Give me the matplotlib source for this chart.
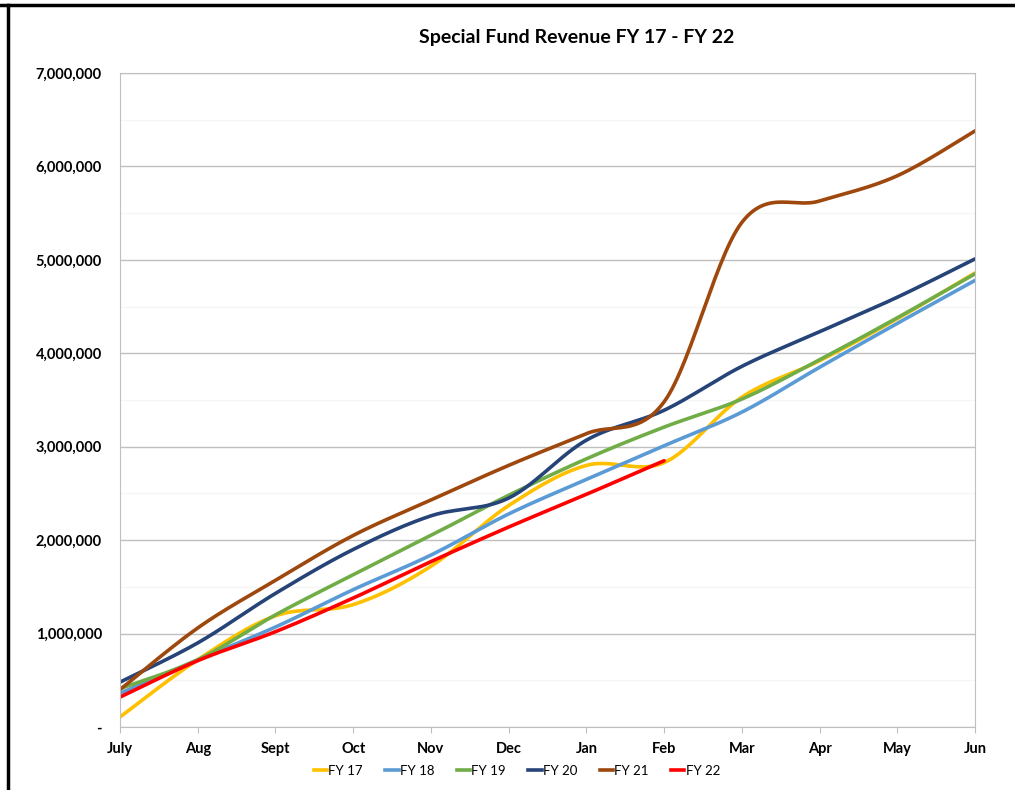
import matplotlib.pyplot as plt
from matplotlib.ticker import FuncFormatter, MultipleLocator
from matplotlib.lines import Line2D
import numpy as np

months = ['July', 'Aug', 'Sept', 'Oct', 'Nov', 'Dec', 'Jan', 'Feb', 'Mar', 'Apr', 'May', 'Jun']

fy17 = [107000, 720000, 1190000, 1310000, 1720000, 2370000, 2800000, 2830000, 3530000, 3920000, 4370000, 4860000]
fy18 = [360000, 720000, 1070000, 1470000, 1840000, 2280000, 2650000, 3010000, 3370000, 3850000, 4320000, 4780000]
fy19 = [410000, 720000, 1200000, 1630000, 2050000, 2480000, 2870000, 3210000, 3510000, 3930000, 4380000, 4850000]
fy20 = [480000, 900000, 1430000, 1900000, 2260000, 2450000, 3070000, 3390000, 3860000, 4230000, 4600000, 5010000]
fy21 = [400000, 1060000, 1570000, 2050000, 2430000, 2800000, 3140000, 3480000, 5400000, 5630000, 5900000, 6380000]
fy22 = [320000, 710000, 1020000, 1380000, 1770000, 2140000, 2490000, 2850000]

series = [('FY 17', fy17, '#ffc000'),
          ('FY 18', fy18, '#5b9bd5'),
          ('FY 19', fy19, '#70ad47'),
          ('FY 20', fy20, '#264478'),
          ('FY 21', fy21, '#9e480e'),
          ('FY 22', fy22, '#ff0000')]


def smooth(y, steps=30):
    # Catmull-Rom curve through the points, like Excel's smoothed line
    y = np.asarray(y, dtype=float)
    x = np.arange(len(y), dtype=float)
    px = np.concatenate([[x[0]], x, [x[-1]]])
    py = np.concatenate([[y[0]], y, [y[-1]]])
    xs, ys = [], []
    t = np.linspace(0, 1, steps)
    for i in range(1, len(px) - 2):
        for p, out in ((px, xs), (py, ys)):
            p0, p1, p2, p3 = p[i - 1], p[i], p[i + 1], p[i + 2]
            c1 = p1 + (p2 - p0) / 6
            c2 = p2 - (p3 - p1) / 6
            out.extend((1 - t) ** 3 * p1 + 3 * (1 - t) ** 2 * t * c1 + 3 * (1 - t) * t ** 2 * c2 + t ** 3 * p2)
    return np.array(xs), np.array(ys)


plt.rcParams['font.family'] = ['Lato', 'DejaVu Sans']

fig = plt.figure(figsize=(10.15, 7.9), dpi=100)
ax = fig.add_axes([120 / 1015, 1 - 727 / 790, 855 / 1015, 654 / 790])

for name, vals, color in series:
    xs, ys = smooth(vals)
    ax.plot(xs, ys, color=color, linewidth=2.6, solid_capstyle='round', label=name)

ax.set_xlim(0, len(months) - 1)
ax.set_ylim(0, 7000000)
ax.yaxis.set_major_locator(MultipleLocator(1000000))
ax.yaxis.set_minor_locator(MultipleLocator(500000))
ax.yaxis.set_major_formatter(FuncFormatter(lambda v, p: '-' if v == 0 else '{:,.0f}'.format(v)))
ax.set_xticks(range(len(months)))
ax.set_xticklabels(months)

ax.grid(axis='y', which='major', color='#c0c0c0', linewidth=1)
ax.grid(axis='y', which='minor', color='#f5f5f5', linewidth=1)
ax.set_axisbelow(True)
for s in ax.spines.values():
    s.set_color('#bfbfbf')
ax.tick_params(axis='y', which='both', length=0, pad=13, labelsize=10.5)
ax.tick_params(axis='x', length=4, color='#bfbfbf', pad=7, labelsize=10.5)
for lbl in ax.get_xticklabels() + ax.get_yticklabels():
    lbl.set_fontweight('bold')

fig.text(577 / 1015, 1 - 38 / 790, 'Special Fund Revenue FY 17 - FY 22', ha='center', va='center',
         fontsize=14, fontweight='bold')

handles = [Line2D([0], [0], color=c, linewidth=2.6) for _, _, c in series]
fig.legend(handles, [n for n, _, _ in series], loc='center', bbox_to_anchor=(517 / 1015, 1 - 771 / 790),
           ncol=6, frameon=False, fontsize=9.5, handlelength=1.0, handletextpad=0.1, columnspacing=1.7)

# outer frame of the chart
fig.add_artist(Line2D([0, 1], [1 - 5 / 790, 1 - 5 / 790], color='black', linewidth=2.5, transform=fig.transFigure))
fig.add_artist(Line2D([8 / 1015, 8 / 1015], [0, 1 - 5 / 790], color='black', linewidth=2.5, transform=fig.transFigure))

fig.savefig('out.png', dpi=100)
